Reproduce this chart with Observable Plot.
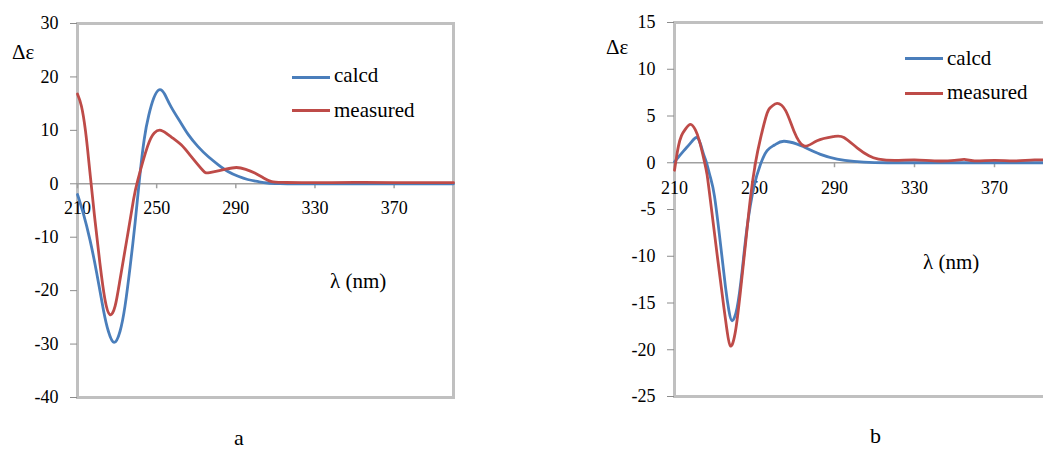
<!DOCTYPE html>
<html>
<head>
<meta charset="utf-8">
<script src="https://cdn.jsdelivr.net/npm/d3@7"></script>
<script src="https://cdn.jsdelivr.net/npm/@observablehq/plot@0.6"></script>
<style>
  body { margin: 0; background: #fff; }
  #wrap { position: relative; width: 1043px; height: 450px; overflow: hidden; background: #fff;
          font-family: "Liberation Serif", "DejaVu Serif", "Times New Roman", Times, serif; color: #000; }
  .panel { position: absolute; top: 0; }
  .lbl { position: absolute; font-size: 21px; line-height: 24px; white-space: nowrap; }
  .big { position: absolute; font-size: 22px; line-height: 24px; }
  .swatch { position: absolute; height: 3px; width: 38px; }
</style>
</head>
<body>
<div id="wrap"></div>
<script>
// ---------- data ----------
const lambdaTicks = [210, 250, 290, 330, 370];
const yTicksA = [-40, -30, -20, -10, 0, 10, 20, 30];
const yTicksB = [-25, -20, -15, -10, -5, 0, 5, 10, 15];
const seriesNames = ["calcd", "measured"];
const seriesColors = ["#4a7ebb", "#be4b48"];

// panel a
const aCalcdWl = [210, 212.9, 216.3, 219.7, 223.1, 225.6, 228.5, 231.5, 234, 236.6, 239.1, 241.3, 243.7, 246, 248.5, 251.3, 254, 257.3, 262.4, 266, 270.8, 276, 281, 286, 291.2, 296, 301.4, 306, 312, 320, 340, 370, 400];
const aCalcdDe = [-2.0, -5.5, -10.5, -16.7, -23.6, -27.6, -29.7, -27.6, -22.9, -15.5, -7.3, 0.8, 8.3, 12.8, 16.0, 17.6, 16.8, 14.4, 11.3, 9.2, 7.0, 5.1, 3.6, 2.3, 1.4, 0.8, 0.4, 0.15, 0.05, 0, 0, 0, 0];
const aMeasWl = [210, 212, 214, 215.5, 216.6, 218.8, 221.3, 223.9, 226.4, 229, 231.5, 234.9, 238.3, 240.5, 245.4, 248.8, 252.2, 257.3, 262.4, 267.5, 273.4, 276.8, 284.4, 290.3, 295, 299.6, 304, 308.1, 314, 330, 350, 370, 400];
const aMeasDe = [16.8, 14.5, 10.0, 5.0, 1.0, -6.7, -14.8, -21.7, -24.5, -22.9, -17.9, -10.5, -3.0, 0.75, 7.0, 9.5, 10.0, 8.8, 7.3, 5.1, 2.5, 2.1, 2.7, 3.05, 2.7, 2.0, 1.1, 0.4, 0.25, 0.2, 0.25, 0.2, 0.2];

// panel b
const bCalcdWl = [210, 212, 214.7, 218, 221, 223, 224.7, 226, 228, 230, 233, 235.5, 237.2, 238.8, 241.3, 243.8, 246.3, 249.7, 253, 256.3, 260, 264.7, 271.3, 274.7, 283, 291.3, 299.7, 310, 330, 360, 400];
const bCalcdDe = [0.1, 0.6, 1.3, 2.1, 2.7, 2.0, 0.8, 0, -1.6, -3.6, -8.7, -13.3, -15.8, -16.9, -15.5, -11.6, -6.9, -2.6, -0.15, 1.3, 1.9, 2.3, 2.0, 1.7, 0.9, 0.4, 0.15, 0.02, 0, 0, 0];
const bMeasWl = [210, 211, 212, 213.5, 215.5, 218, 220.5, 222.5, 225, 226.3, 228, 231.3, 234.7, 236.3, 238, 240.5, 243, 245.5, 248, 250.5, 253, 256.3, 258.5, 261.3, 265.5, 269.7, 274.7, 281.3, 289.7, 294.7, 301.3, 307.2, 312, 320, 330, 340, 350, 355, 360, 370, 380, 390, 400];
const bMeasDe = [-0.8, 0.6, 1.8, 2.9, 3.6, 4.1, 3.5, 2.3, 0.1, -1.3, -4.1, -9.8, -15.5, -18.0, -19.6, -18.0, -13.7, -8.7, -3.7, 0, 2.6, 5.3, 6.0, 6.35, 5.6, 3.4, 1.8, 2.35, 2.8, 2.7, 1.6, 0.75, 0.4, 0.25, 0.3, 0.2, 0.25, 0.35, 0.2, 0.25, 0.2, 0.3, 0.25];

const toRows = (wl, de) => wl.map((w, i) => ({w, d: de[i]}));
const FONT = '"Liberation Serif", "DejaVu Serif", "Times New Roman", Times, serif';

// ---------- drawing ----------
function panel({left, width, mLeft, mRight, mTop, mBottom, yDomain, yTicks, calcd, meas, labelDy}) {
  const height = 420;
  const plotH = height - mTop - mBottom;
  const tickLen = (yDomain[1] - yDomain[0]) / plotH * 5;
  const svg = Plot.plot({
    width, height,
    marginLeft: mLeft, marginRight: mRight, marginTop: mTop, marginBottom: mBottom,
    style: {fontFamily: FONT, fontSize: "18px", background: "transparent", color: "#000"},
    x: {domain: [210, 400], axis: null},
    y: {domain: yDomain, axis: null},
    marks: [
      Plot.frame({stroke: "#c0c0c0", strokeWidth: 3}),
      Plot.axisY(yTicks, {anchor: "left", label: null, tickSize: 7, tickPadding: 12, stroke: "#8c8c8c", fill: "#000",
        tickFormat: d => String(d), fontSize: 18, fontFamily: FONT}),
      Plot.ruleY([0], {stroke: "#a0a0a0", strokeWidth: 1.5}),
      Plot.ruleX(lambdaTicks, {x: d => d, y1: 0, y2: -tickLen, stroke: "#a0a0a0", strokeWidth: 1.5}),
      Plot.text(lambdaTicks, {x: d => d, y: 0, dy: labelDy, text: d => String(d), fill: "#000", fontSize: 18, fontFamily: FONT}),
      Plot.line(toRows(calcd[0], calcd[1]), {x: "w", y: "d", stroke: seriesColors[0], strokeWidth: 2.8, curve: "natural"}),
      Plot.line(toRows(meas[0], meas[1]), {x: "w", y: "d", stroke: seriesColors[1], strokeWidth: 2.8, curve: "natural"})
    ]
  });
  svg.classList.add("panel");
  svg.style.left = left + "px";
  return svg;
}

const wrap = document.getElementById("wrap");
wrap.appendChild(panel({left: 0, width: 470, mLeft: 77, mRight: 17, mTop: 23, mBottom: 23,
  yDomain: [-40, 30], yTicks: yTicksA, calcd: [aCalcdWl, aCalcdDe], meas: [aMeasWl, aMeasDe], labelDy: 24}));
wrap.appendChild(panel({left: 560, width: 500, mLeft: 114, mRight: 6, mTop: 22, mBottom: 24,
  yDomain: [-25, 15], yTicks: yTicksB, calcd: [bCalcdWl, bCalcdDe], meas: [bMeasWl, bMeasDe], labelDy: 25}));

function addText(cls, txt, left, top) {
  const d = document.createElement("div");
  d.className = cls; d.textContent = txt;
  d.style.left = left + "px"; d.style.top = top + "px";
  wrap.appendChild(d);
}
function addSwatch(color, left, cy) {
  const d = document.createElement("div");
  d.className = "swatch"; d.style.background = color;
  d.style.left = left + "px"; d.style.top = (cy - 1.5) + "px";
  wrap.appendChild(d);
}
// panel a annotations
addText("lbl", "Δε", 12, 40);
addSwatch(seriesColors[0], 292, 77); addText("lbl", seriesNames[0], 334, 63);
addSwatch(seriesColors[1], 292, 110); addText("lbl", seriesNames[1], 334, 98);
addText("lbl", "λ (nm)", 330, 269);
addText("big", "a", 234, 426);
// panel b annotations
addText("lbl", "Δε", 606, 35);
addSwatch(seriesColors[0], 905, 58); addText("lbl", seriesNames[0], 947, 46);
addSwatch(seriesColors[1], 905, 93); addText("lbl", seriesNames[1], 947, 80);
addText("lbl", "λ (nm)", 923, 250);
addText("big", "b", 870, 424);
</script>
</body>
</html>
